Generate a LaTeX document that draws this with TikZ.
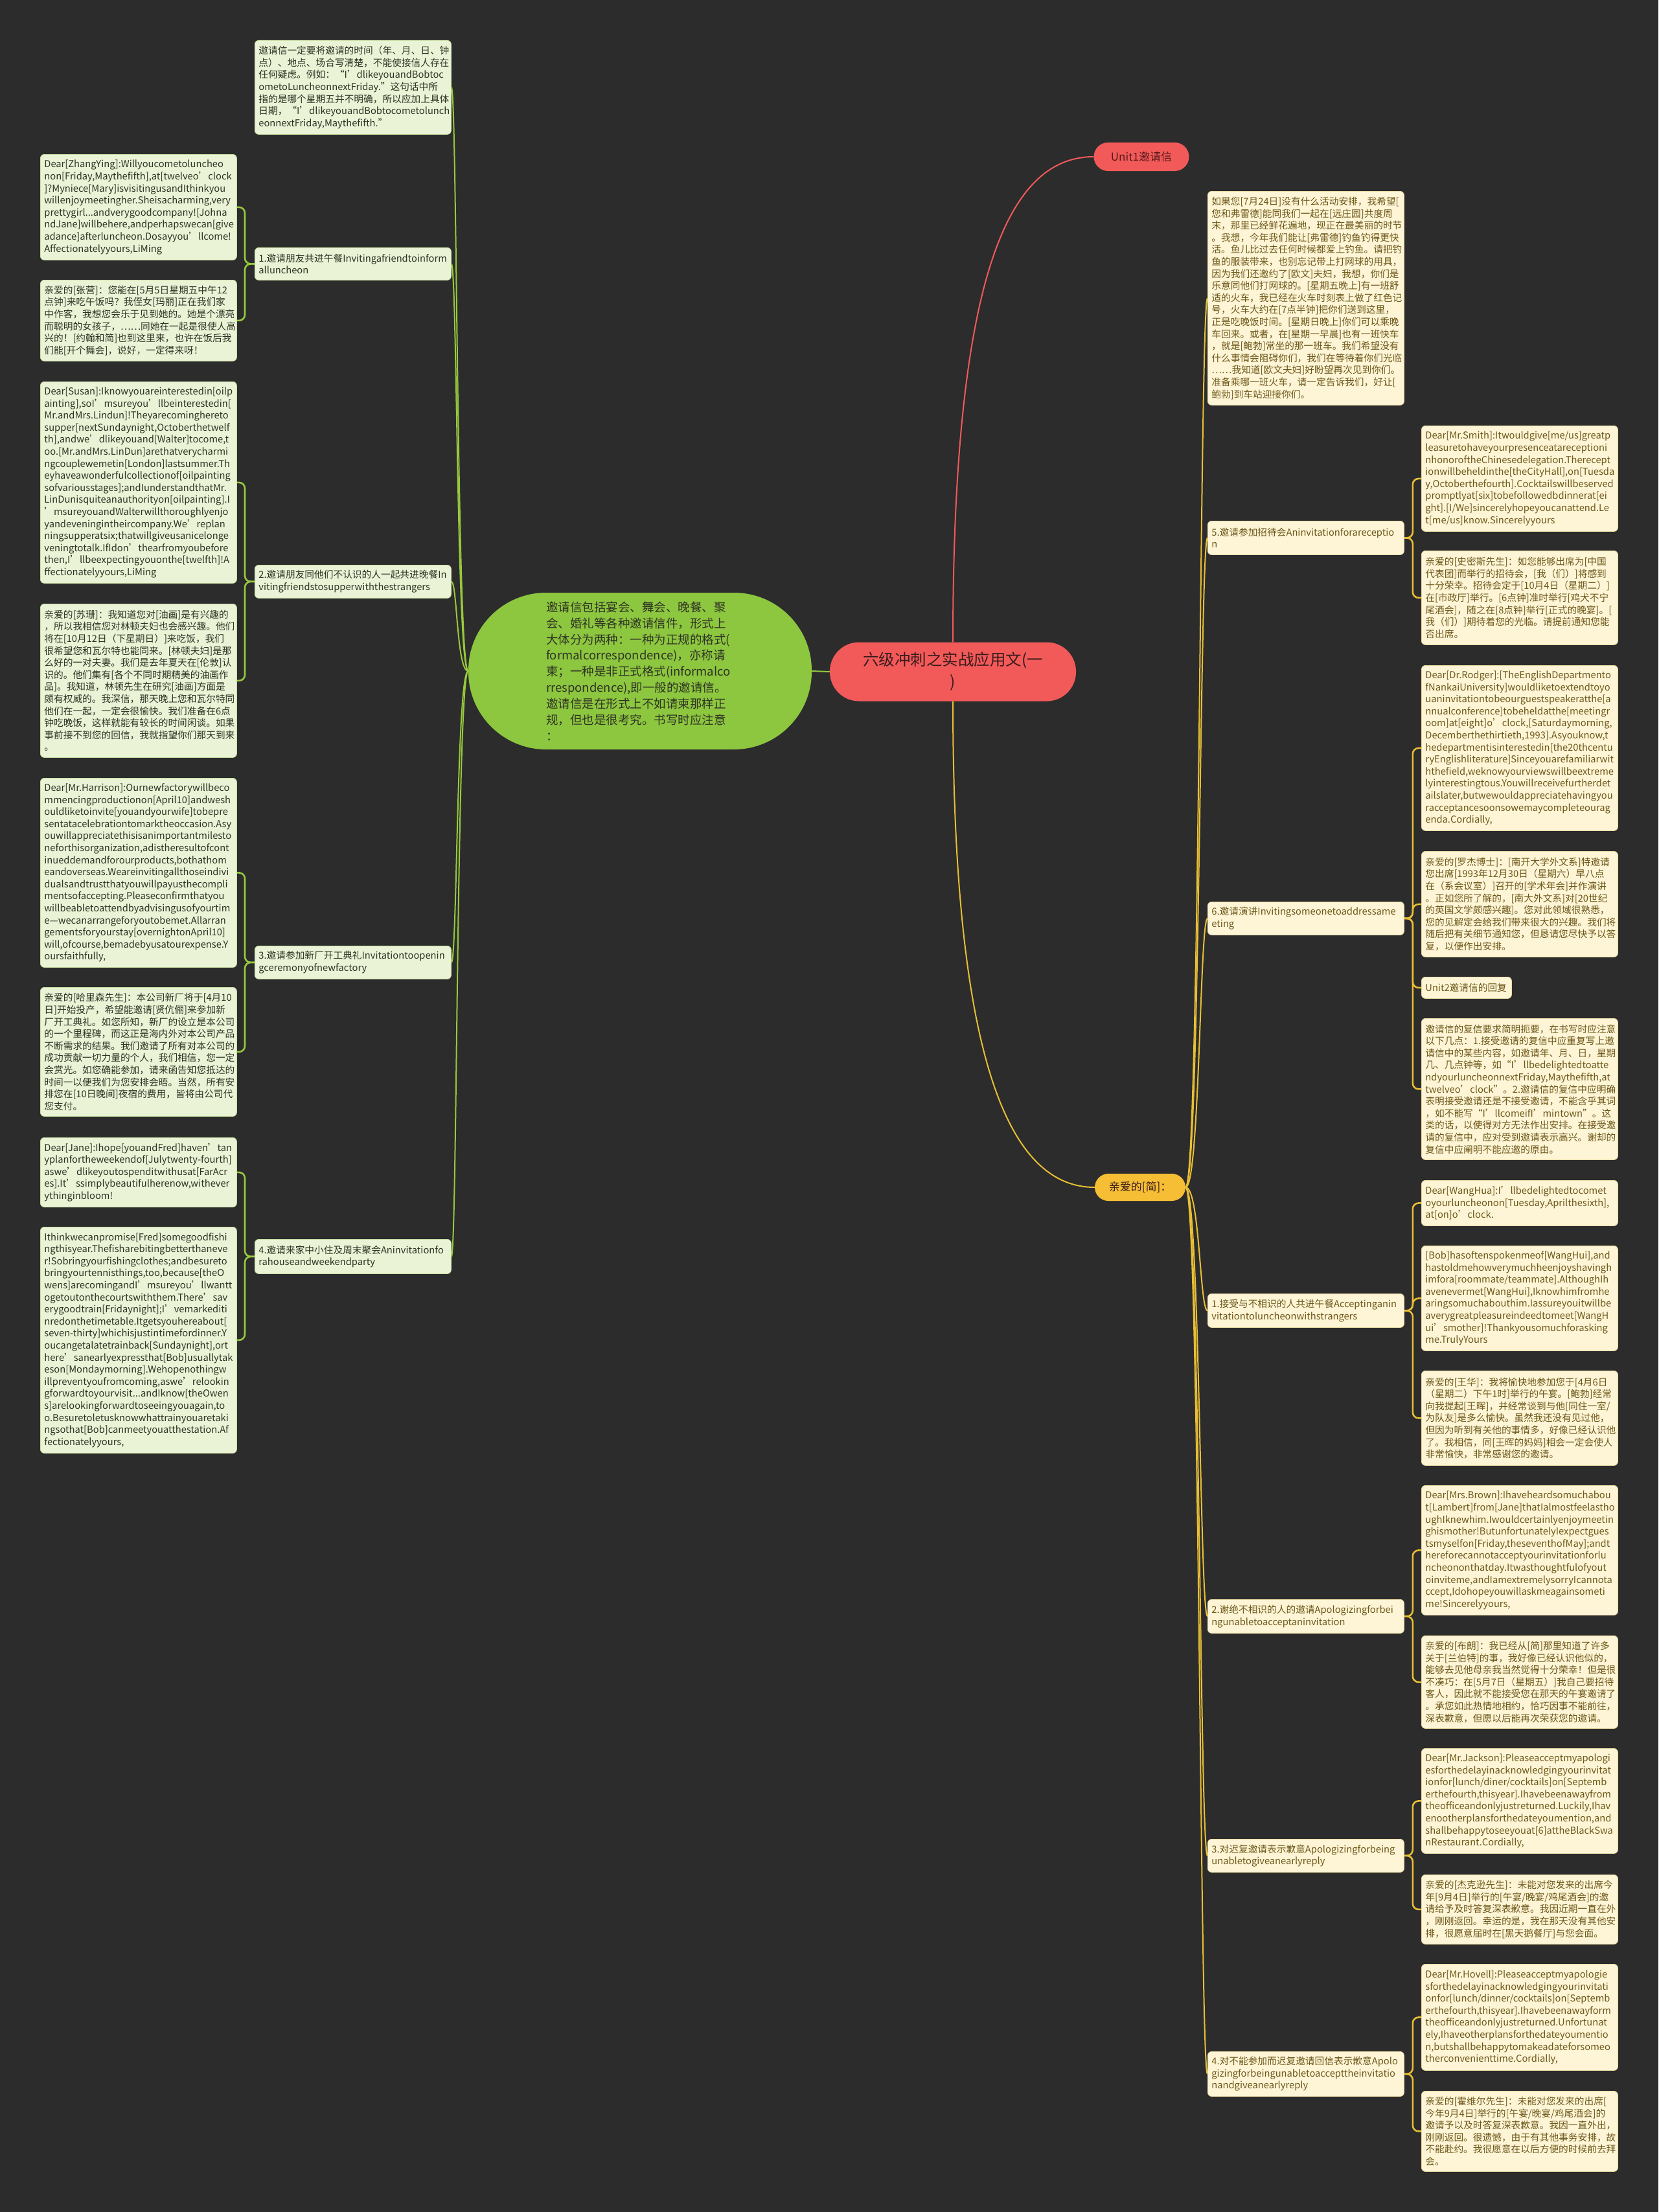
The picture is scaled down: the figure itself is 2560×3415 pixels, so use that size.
\documentclass[tikz,border=0pt]{standalone}
\usepackage{fontspec}
\setmainfont{Noto Sans CJK SC}
\usepackage{tikz}
\usetikzlibrary{positioning,calc}
\definecolor{bgdark}{HTML}{2C2C2C}
\definecolor{leafgreen}{HTML}{8DC63F}
\definecolor{greenline}{HTML}{96C93D}
\definecolor{greenbox}{HTML}{EAF3D6}
\definecolor{greenboxline}{HTML}{C9DEA3}
\definecolor{greentext}{HTML}{2E3324}
\definecolor{coral}{HTML}{F25A5A}
\definecolor{rootink}{HTML}{3A1B1B}
\definecolor{pillink}{HTML}{5A1818}
\definecolor{goldline}{HTML}{E8BF35}
\definecolor{goldpill}{HTML}{F5BE35}
\definecolor{creambox}{HTML}{FDF5D6}
\definecolor{creamboxline}{HTML}{E9DBA5}
\definecolor{browntext}{HTML}{6E5719}
\newcommand{\mapboxfont}{\fontsize{14.7pt}{18.6pt}\selectfont}
\tikzset{
  greenleaf/.style={rectangle, rounded corners=6pt, draw=greenboxline, fill=greenbox,
                    line width=0.8pt, anchor=north west, text width=291pt, inner xsep=6pt,
                    inner ysep=0pt, align=left, text=greentext, font=\mapboxfont},
  creamleaf/.style={rectangle, rounded corners=6pt, draw=creamboxline, fill=creambox,
                    line width=0.8pt, anchor=north west, text width=291pt, inner xsep=6pt,
                    inner ysep=0pt, align=left, text=browntext, font=\mapboxfont},
  rootpill/.style={rectangle, rounded corners=45pt, fill=coral, minimum width=380pt,
                   minimum height=91pt, align=center, text=rootink,
                   font=\fontsize{24.5pt}{34pt}\selectfont},
  summarybox/.style={rectangle, rounded corners=120pt, fill=leafgreen, minimum width=530pt,
                     minimum height=242pt, text width=290pt, align=left, text=greentext,
                     font=\fontsize{18.5pt}{24.9pt}\selectfont},
  unitpill/.style={rectangle, rounded corners=22pt, fill=coral, minimum width=147pt,
                   minimum height=44pt, text=pillink, font=\fontsize{17pt}{20pt}\selectfont},
  goldtag/.style={rectangle, rounded corners=21pt, fill=goldpill, minimum width=140pt,
                  minimum height=42pt, text=rootink, font=\fontsize{17pt}{20pt}\selectfont},
  greenlink/.style={draw=greenline, line width=2pt},
  greenbrace/.style={draw=greenline, line width=2.6pt, rounded corners=9pt},
  goldlink/.style={draw=goldline, line width=2pt},
  goldbrace/.style={draw=goldline, line width=2.6pt, rounded corners=9pt},
  redlink/.style={draw=coral, line width=2pt}
}

\begin{document}
\begin{tikzpicture}[x=1pt, y=-1pt]
\fill[bgdark] (0,0) rectangle (2560,3415);
\useasboundingbox (0,0) rectangle (2560,3415);

\node[rootpill] (root) at (1471,1037) {六级冲刺之实战应用文(一\\)};
\node[summarybox] (summary) at (988,1036) {邀请信包括宴会、舞会、晚餐、聚\\
会、婚礼等各种邀请信件，形式上\\
大体分为两种：一种为正规的格式(\\
formalcorrespondence)，亦称请\\
柬；一种是非正式格式(informalco\\
rrespondence),即一般的邀请信。\\
邀请信是在形式上不如请柬那样正\\
规，但也是很考究。书写时应注意\\
：};
\node[unitpill] (unit1) at (1762,242) {Unit1邀请信};
\node[goldtag] (jian) at (1760,1833) {亲爱的[简]：};

\node[greenleaf, minimum height=145pt] (lnote) at (393,62) {邀请信一定要将邀请的时间（年、月、日、钟\\
点）、地点、场合写清楚，不能使接信人存在\\
任何疑虑。例如：“I’dlikeyouandBobtoc\\
ometoLuncheonnextFriday.”这句话中所\\
指的是哪个星期五并不明确，所以应加上具体\\
日期，“I’dlikeyouandBobtocometolunch\\
eonnextFriday,Maythefifth.”};
\node[greenleaf, minimum height=50pt] (l1) at (393,382) {1.邀请朋友共进午餐Invitingafriendtoinform\\
alluncheon};
\node[greenleaf, minimum height=51pt] (l2) at (393,872) {2.邀请朋友同他们不认识的人一起共进晚餐In\\
vitingfriendstosupperwiththestrangers};
\node[greenleaf, minimum height=51pt] (l3) at (393,1460) {3.邀请参加新厂开工典礼Invitationtoopenin\\
gceremonyofnewfactory};
\node[greenleaf, minimum height=53pt] (l4) at (393,1913) {4.邀请来家中小住及周末聚会Aninvitationfo\\
rahouseandweekendparty};

\node[greenleaf, minimum height=163pt] (lz) at (62,238) {Dear[ZhangYing]:Willyoucometoluncheo\\
non[Friday,Maythefifth],at[twelveo’clock\\
]?Myniece[Mary]isvisitingusandIthinkyou\\
willenjoymeetingher.Sheisacharming,very\\
prettygirl...andverygoodcompany![Johna\\
ndJane]willbehere,andperhapswecan[give\\
adance]afterluncheon.Dosayyou’llcome!\\
Affectionatelyyours,LiMing};
\node[greenleaf, minimum height=125pt] (lzc) at (62,432) {亲爱的[张营]：您能在[5月5日星期五中午12\\
点钟]来吃午饭吗？我侄女[玛丽]正在我们家\\
中作客，我想您会乐于见到她的。她是个漂亮\\
而聪明的女孩子，……同她在一起是很使人高\\
兴的！[约翰和简]也到这里来，也许在饭后我\\
们能[开个舞会]，说好，一定得来呀！};
\node[greenleaf, minimum height=311pt] (ls) at (62,589) {Dear[Susan]:Iknowyouareinterestedin[oilp\\
ainting],soI’msureyou’llbeinterestedin[\\
Mr.andMrs.Lindun]!Theyarecominghereto\\
supper[nextSundaynight,Octoberthetwelf\\
th],andwe’dlikeyouand[Walter]tocome,t\\
oo.[Mr.andMrs.LinDun]arethatverycharmi\\
ngcouplewemetin[London]lastsummer.Th\\
eyhaveawonderfulcollectionof[oilpainting\\
sofvariousstages];andIunderstandthatMr.\\
LinDunisquiteanauthorityon[oilpainting].I\\
’msureyouandWalterwillthoroughlyenjo\\
yandeveningintheircompany.We’replan\\
ningsupperatsix;thatwillgiveusanicelonge\\
veningtotalk.IfIdon’thearfromyoubefore\\
then,I’llbeexpectingyouonthe[twelfth]!A\\
ffectionatelyyours,LiMing};
\node[greenleaf, minimum height=237pt] (lsc) at (62,932) {亲爱的[苏珊]：我知道您对[油画]是有兴趣的\\
，所以我相信您对林顿夫妇也会感兴趣。他们\\
将在[10月12日（下星期日）]来吃饭，我们\\
很希望您和瓦尔特也能同来。[林顿夫妇]是那\\
么好的一对夫妻。我们是去年夏天在[伦敦]认\\
识的。他们集有[各个不同时期精美的油画作\\
品]。我知道，林顿先生在研究[油画]方面是\\
颇有权威的。我深信，那天晚上您和瓦尔特同\\
他们在一起，一定会很愉快。我们准备在6点\\
钟吃晚饭，这样就能有较长的时间闲谈。如果\\
事前接不到您的回信，我就指望你们那天到来\\
。};
\node[greenleaf, minimum height=292pt] (lh) at (62,1201) {Dear[Mr.Harrison]:Ournewfactorywillbeco\\
mmencingproductionon[April10]andwesh\\
ouldliketoinvite[youandyourwife]tobepre\\
sentatacelebrationtomarktheoccasion.Asy\\
ouwillappreciatethisisanimportantmilesto\\
neforthisorganization,adistheresultofcont\\
inueddemandforourproducts,bothathom\\
eandoverseas.Weareinvitingallthoseindivi\\
dualsandtrustthatyouwillpayusthecompli\\
mentsofaccepting.Pleaseconfirmthatyou\\
willbeabletoattendbyadvisingusofyourtim\\
e—wecanarrangeforyoutobemet.Allarran\\
gementsforyourstay[overnightonApril10]\\
will,ofcourse,bemadebyusatourexpense.Y\\
oursfaithfully,};
\node[greenleaf, minimum height=199pt] (lhc) at (62,1524) {亲爱的[哈里森先生]：本公司新厂将于[4月10\\
日]开始投产，希望能邀请[贤伉俪]来参加新\\
厂开工典礼。如您所知，新厂的设立是本公司\\
的一个里程碑，而这正是海内外对本公司产品\\
不断需求的结果。我们邀请了所有对本公司的\\
成功贡献一切力量的个人，我们相信，您一定\\
会赏光。如您确能参加，请来函告知您抵达的\\
时间一以便我们为您安排会晤。当然，所有安\\
排您在[10日晚间]夜宿的费用，皆将由公司代\\
您支付。};
\node[greenleaf, minimum height=107pt] (lj) at (62,1756) {Dear[Jane]:Ihope[youandFred]haven’tan\\
yplanfortheweekendof[Julytwenty-fourth]\\
aswe’dlikeyoutospenditwithusat[FarAcr\\
es].It’ssimplybeautifulherenow,withever\\
ythinginbloom!};
\node[greenleaf, minimum height=349pt] (lt) at (62,1894) {Ithinkwecanpromise[Fred]somegoodfishi\\
ngthisyear.Thefisharebitingbetterthaneve\\
r!Sobringyourfishingclothes;andbesureto\\
bringyourtennisthings,too,because[theO\\
wens]arecomingandI’msureyou’llwantt\\
ogetoutonthecourtswiththem.There’sav\\
erygoodtrain[Fridaynight];I’vemarkediti\\
nredonthetimetable.Itgetsyouhereabout[\\
seven-thirty]whichisjustintimefordinner.Y\\
oucangetalatetrainback[Sundaynight],ort\\
here’sanearlyexpressthat[Bob]usuallytak\\
eson[Mondaymorning].Wehopenothingw\\
illpreventyoufromcoming,aswe’relookin\\
gforwardtoyourvisit...andIknow[theOwen\\
s]arelookingforwardtoseeingyouagain,to\\
o.Besuretoletusknowwhattrainyouaretaki\\
ngsothat[Bob]canmeetyouatthestation.Af\\
fectionatelyyours,};

\node[creamleaf, minimum height=330pt] (rnote) at (1864,295) {如果您[7月24日]没有什么活动安排，我希望[\\
您和弗雷德]能同我们一起在[远庄园]共度周\\
末，那里已经鲜花遍地，现正在最美丽的时节\\
。我想，今年我们能让[弗雷德]钓鱼钓得更快\\
活。鱼儿比过去任何时候都爱上钓鱼。请把钓\\
鱼的服装带来，也别忘记带上打网球的用具，\\
因为我们还邀约了[欧文]夫妇，我想，你们是\\
乐意同他们打网球的。[星期五晚上]有一班舒\\
适的火车，我已经在火车时刻表上做了红色记\\
号，火车大约在[7点半钟]把你们送到这里，\\
正是吃晚饭时间。[星期日晚上]你们可以乘晚\\
车回来。或者，在[星期一早晨]也有一班快车\\
，就是[鲍勃]常坐的那一班车。我们希望没有\\
什么事情会阻碍你们，我们在等待着你们光临\\
……我知道[欧文夫妇]好盼望再次见到你们。\\
准备乘哪一班火车，请一定告诉我们，好让[\\
鲍勃]到车站迎接你们。};
\node[creamleaf, minimum height=52pt] (r5) at (1864,804) {5.邀请参加招待会Aninvitationforareceptio\\
n};
\node[creamleaf, minimum height=51pt] (r6) at (1864,1392) {6.邀请演讲Invitingsomeonetoaddressame\\
eting};
\node[creamleaf, minimum height=52pt] (ra1) at (1864,1997) {1.接受与不相识的人共进午餐Acceptinganin\\
vitationtoluncheonwithstrangers};
\node[creamleaf, minimum height=52pt] (rd2) at (1864,2469) {2.谢绝不相识的人的邀请Apologizingforbei\\
ngunabletoacceptaninvitation};
\node[creamleaf, minimum height=51pt] (rr3) at (1864,2839) {3.对迟复邀请表示歉意Apologizingforbeing\\
unabletogiveanearlyreply};
\node[creamleaf, minimum height=69pt] (rr4) at (1864,3167) {4.对不能参加而迟复邀请回信表示歉意Apolo\\
gizingforbeingunabletoaccepttheinvitatio\\
nandgiveanearlyreply};

\node[creamleaf, minimum height=163pt] (rsmith) at (2194,657) {Dear[Mr.Smith]:Itwouldgive[me/us]greatp\\
leasuretohaveyourpresenceatareceptioni\\
nhonoroftheChinesedelegation.Therecept\\
ionwillbeheldinthe[theCityHall],on[Tuesda\\
y,Octoberthefourth].Cocktailswillbeserved\\
promptlyat[six]tobefollowedbdinnerat[ei\\
ght].[I/We]sincerelyhopeyoucanattend.Le\\
t[me/us]know.Sincerelyyours};
\node[creamleaf, minimum height=145pt] (rsmithc) at (2194,850) {亲爱的[史密斯先生]：如您能够出席为[中国\\
代表团]而举行的招待会，[我（们）]将感到\\
十分荣幸。招待会定于[10月4日（星期二）]\\
在[市政厅]举行。[6点钟]准时举行[鸡犬不宁\\
尾酒会]，随之在[8点钟]举行[正式的晚宴]。[\\
我（们）]期待着您的光临。请提前通知您能\\
否出席。};
\node[creamleaf, minimum height=255pt] (rrodger) at (2194,1027) {Dear[Dr.Rodger]:[TheEnglishDepartmento\\
fNankaiUniversity]wouldliketoextendtoyo\\
uaninvitationtobeourguestspeakeratthe[a\\
nnualconference]tobeheldatthe[meetingr\\
oom]at[eight]o’clock,[Saturdaymorning,\\
Decemberthethirtieth,1993].Asyouknow,t\\
hedepartmentisinterestedin[the20thcentu\\
ryEnglishliterature]Sinceyouarefamiliarwit\\
hthefield,weknowyourviewswillbeextreme\\
lyinterestingtous.Youwillreceivefurtherdet\\
ailslater,butwewouldappreciatehavingyou\\
racceptancesoonsowemaycompleteourag\\
enda.Cordially,};
\node[creamleaf, minimum height=163pt] (rrodgerc) at (2194,1314) {亲爱的[罗杰博士]：[南开大学外文系]特邀请\\
您出席[1993年12月30日（星期六）早八点\\
在（系会议室）]召开的[学术年会]并作演讲\\
。正如您所了解的，[南大外文系]对[20世纪\\
的英国文学颇感兴趣]。您对此领域很熟悉，\\
您的见解定会给我们带来很大的兴趣。我们将\\
随后把有关细节通知您，但恳请您尽快予以答\\
复，以便作出安排。};
\node[creamleaf, text width=127pt, minimum height=33pt] (unit2) at (2194,1508) {Unit2邀请信的回复};
\node[creamleaf, minimum height=218pt] (rreply) at (2194,1572) {邀请信的复信要求简明扼要，在书写时应注意\\
以下几点：1.接受邀请的复信中应重复写上邀\\
请信中的某些内容，如邀请年、月、日，星期\\
几、几点钟等，如“I’llbedelightedtoatte\\
ndyourluncheonnextFriday,Maythefifth,at\\
twelveo’clock”。2.邀请信的复信中应明确\\
表明接受邀请还是不接受邀请，不能含乎其词\\
，如不能写“I’llcomeifI’mintown”。这\\
类的话，以使得对方无法作出安排。在接受邀\\
请的复信中，应对受到邀请表示高兴。谢却的\\
复信中应阐明不能应邀的原由。};
\node[creamleaf, minimum height=70pt] (rwang) at (2194,1822) {Dear[WangHua]:I’llbedelightedtocomet\\
oyourluncheonon[Tuesday,Aprilthesixth],\\
at[on]o’clock.};
\node[creamleaf, minimum height=162pt] (rbob) at (2194,1923) {{}[Bob]hasoftenspokenmeof[WangHui],and\\
hastoldmehowverymuchheenjoyshavingh\\
imfora[roommate/teammate].AlthoughIh\\
avenevermet[WangHui],Iknowhimfromhe\\
aringsomuchabouthim.Iassureyouitwillbe\\
averygreatpleasureindeedtomeet[WangH\\
ui’smother]!Thankyousomuchforasking\\
me.TrulyYours};
\node[creamleaf, minimum height=146pt] (rwangc) at (2194,2116) {亲爱的[王华]：我将愉快地参加您于[4月6日\\
（星期二）下午1时]举行的午宴。[鲍勃]经常\\
向我提起[王晖]，并经常谈到与他[同住一室/\\
为队友]是多么愉快。虽然我还没有见过他，\\
但因为听到有关他的事情多，好像已经认识他\\
了。我相信，同[王晖的妈妈]相会一定会使人\\
非常愉快，非常感谢您的邀请。};
\node[creamleaf, minimum height=200pt] (rbrown) at (2194,2293) {Dear[Mrs.Brown]:Ihaveheardsomuchabou\\
t[Lambert]from[Jane]thatIalmostfeelastho\\
ughIknewhim.Iwouldcertainlyenjoymeetin\\
ghismother!ButunfortunatelyIexpectgues\\
tsmyselfon[Friday,theseventhofMay];andt\\
hereforecannotacceptyourinvitationforlu\\
ncheononthatday.Itwasthoughtfulofyout\\
oinviteme,andIamextremelysorryIcannota\\
ccept,Idohopeyouwillaskmeagainsometi\\
me!Sincerelyyours,};
\node[creamleaf, minimum height=143pt] (rbrownc) at (2194,2525) {亲爱的[布朗]：我已经从[简]那里知道了许多\\
关于[兰伯特]的事，我好像已经认识他似的，\\
能够去见他母亲我当然觉得十分荣幸！但是很\\
不凑巧：在[5月7日（星期五）]我自己要招待\\
客人，因此就不能接受您在那天的午宴邀请了\\
。承您如此热情地相约，恰巧因事不能前往，\\
深表歉意，但愿以后能再次荣获您的邀请。};
\node[creamleaf, minimum height=162pt] (rjack) at (2194,2699) {Dear[Mr.Jackson]:Pleaseacceptmyapologi\\
esforthedelayinacknowledgingyourinvitat\\
ionfor[lunch/diner/cocktails]on[Septemb\\
erthefourth,thisyear].Ihavebeenawayfrom\\
theofficeandonlyjustreturned.Luckily,Ihav\\
enootherplansforthedateyoumention,and\\
shallbehappytoseeyouat[6]attheBlackSwa\\
nRestaurant.Cordially,};
\node[creamleaf, minimum height=107pt] (rjackc) at (2194,2894) {亲爱的[杰克逊先生]：未能对您发来的出席今\\
年[9月4日]举行的[午宴/晚宴/鸡尾酒会]的邀\\
请给予及时答复深表歉意。我因近期一直在外\\
，刚刚返回。幸运的是，我在那天没有其他安\\
排，很愿意届时在[黑天鹅餐厅]与您会面。};
\node[creamleaf, minimum height=164pt] (rhov) at (2194,3032) {Dear[Mr.Hovell]:Pleaseacceptmyapologie\\
sforthedelayinacknowledgingyourinvitati\\
onfor[lunch/dinner/cocktails]on[Septemb\\
erthefourth,thisyear].Ihavebeenawayform\\
theofficeandonlyjustreturned.Unfortunat\\
ely,Ihaveotherplansforthedateyoumentio\\
n,butshallbehappytomakeadateforsomeo\\
therconvenienttime.Cordially,};
\node[creamleaf, minimum height=124pt] (rhovc) at (2194,3228) {亲爱的[霍维尔先生]：未能对您发来的出席[\\
今年9月4日]举行的[午宴/晚宴/鸡尾酒会]的\\
邀请予以及时答复深表歉意。我因一直外出，\\
刚刚返回。很遗憾，由于有其他事务安排，故\\
不能赴约。我很愿意在以后方便的时候前去拜\\
会。};

\draw[greenlink] (root.west) -- (summary.east);
\draw[redlink] (root.north) .. controls ([yshift=570pt]root.north) and ([xshift=-130pt]unit1.west) .. (unit1.west);
\draw[goldlink] (root.south) .. controls ([yshift=-560pt]root.south) and ([xshift=-130pt]jian.west) .. (jian.west);

\foreach \n in {lnote,l1,l2,l3,l4}
  \draw[greenlink] (summary.west) .. controls ([xshift=-18pt]summary.west) and ([xshift=9pt]\n.east) .. (\n.east);
\foreach \n in {rnote,r5,r6,ra1,rd2,rr3,rr4}
  \draw[goldlink] (jian.east) .. controls ([xshift=22pt]jian.east) and ([xshift=-12pt]\n.west) .. (\n.west);

\foreach \p/\c in {l1/lz, l1/lzc, l2/ls, l2/lsc, l3/lh, l3/lhc, l4/lj, l4/lt}
  \draw[greenbrace] (\p.west) -- ([xshift=-15pt]\p.west) |- (\c.east);
\foreach \p/\c in {r5/rsmith, r5/rsmithc, r6/rrodger, r6/rrodgerc, r6/unit2, r6/rreply,
                   ra1/rwang, ra1/rbob, ra1/rwangc, rd2/rbrown, rd2/rbrownc,
                   rr3/rjack, rr3/rjackc, rr4/rhov, rr4/rhovc}
  \draw[goldbrace] (\p.east) -- ([xshift=13pt]\p.east) |- (\c.west);
\end{tikzpicture}
\end{document}
